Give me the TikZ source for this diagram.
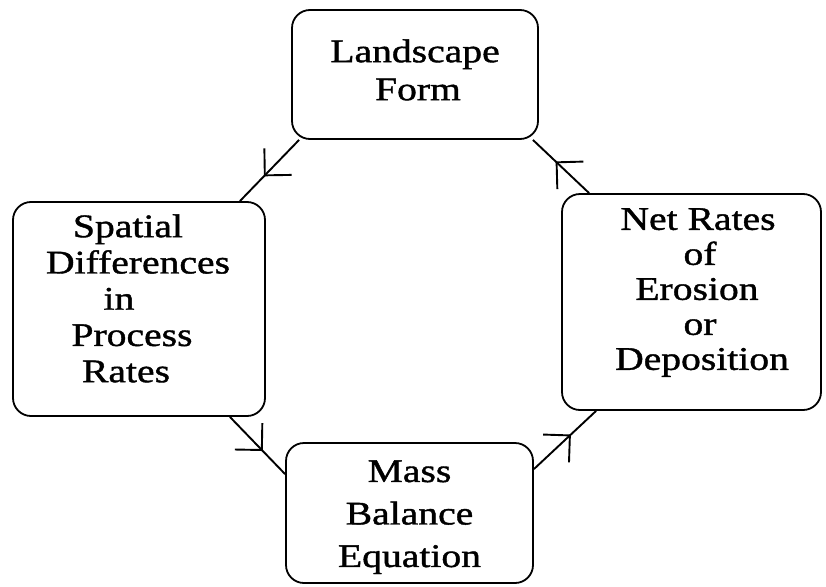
\documentclass[tikz,border=0pt]{standalone}
\usepackage{fontspec}
\setmainfont[FakeStretch=1.2,FakeBold=1.2]{Liberation Serif}
\usetikzlibrary{decorations.markings}
\newcommand{\padr}[1]{\rule{#1}{0pt}}
\begin{document}
\begin{tikzpicture}[x=1pt,y=-1pt,
  box/.style={draw, line width=1.8pt, rounded corners=18pt, align=center, inner sep=0pt},
  flow/.style={line width=1.9pt, postaction={decorate},
    decoration={markings, mark=at position 0.58 with {\draw[line width=1.9pt] (-19pt,19pt) -- (0pt,0pt) -- (-19pt,-19pt);}}}]
\useasboundingbox (0,0) rectangle (826,586);
\node[box, minimum width=246pt, minimum height=129pt, font=\fontsize{33}{38}\selectfont] (L) at (415,74.5)
  {Landscape\\\padr{6pt}Form\rule[-9.5pt]{0pt}{9.5pt}};
\node[box, minimum width=252pt, minimum height=214pt, font=\fontsize{33}{36.25}\selectfont] (S) at (139,309)
  {Spatial\padr{22pt}\\Differences\padr{2pt}\\in\padr{40pt}\\Process\padr{14pt}\\Rates\padr{26pt}\rule[-21.5pt]{0pt}{21.5pt}};
\node[box, minimum width=259pt, minimum height=216pt, font=\fontsize{33}{35}\selectfont] (N) at (691.5,302)
  {\padr{13pt}Net Rates\\\padr{17pt}of\\\padr{11pt}Erosion\\\padr{17pt}or\\\padr{21pt}Deposition\rule[-26pt]{0pt}{26pt}};
\node[box, minimum width=247pt, minimum height=140pt, font=\fontsize{33}{42.5}\selectfont] (M) at (409.5,513)
  {\rule{0pt}{30pt}Mass\\Balance\\Equation};
\draw[flow] ([xshift=8pt]L.south west) -- ([xshift=-26pt]S.north east);
\draw[flow] ([xshift=-36pt]S.south east) -- ([yshift=-32pt]M.north west);
\draw[flow] ([yshift=-27pt]M.north east) -- ([xshift=35pt]N.south west);
\draw[flow] ([xshift=28pt]N.north west) -- ([xshift=-6pt]L.south east);
\end{tikzpicture}
\end{document}
